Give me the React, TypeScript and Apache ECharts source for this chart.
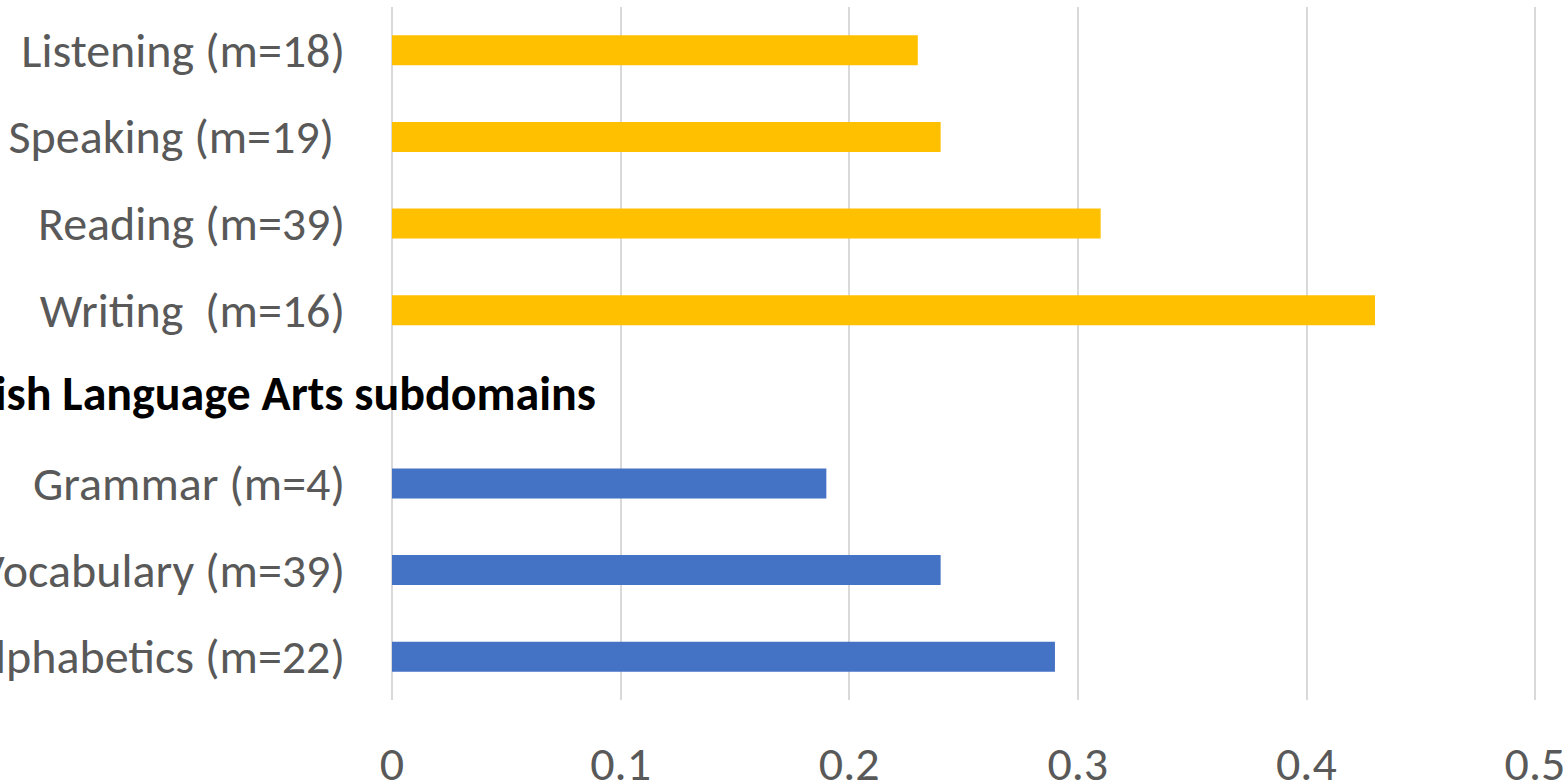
import React, { useEffect, useRef } from "react";
import * as echarts from "echarts";

const HEADER = "English Language Arts subdomains";
const categories = [
  "Listening (m=18)",
  "Speaking (m=19) ",
  "Reading (m=39)",
  "Writing  (m=16)",
  HEADER,
  "Grammar (m=4)",
  "Vocabulary (m=39)",
  "Alphabetics (m=22)",
];
const values: (number | null)[] = [0.23, 0.24, 0.31, 0.43, null, 0.19, 0.24, 0.29];
const groups = ["lang", "lang", "lang", "lang", "none", "ela", "ela", "ela"];
const groupColors: Record<string, string> = { lang: "#FFC000", ela: "#4472C4", none: "#FFFFFF" };
const xTicks = [0, 0.1, 0.2, 0.3, 0.4, 0.5];

const FONT = "Carlito, Calibri, 'Open Sans', sans-serif";

export default function App() {
  const ref = useRef<HTMLDivElement>(null);
  useEffect(() => {
    if (!ref.current) return;
    const chart = echarts.init(ref.current, undefined, { renderer: "svg" });
    chart.setOption({
      animation: false,
      grid: {
        left: 392,
        right: 33,
        top: 7,
        bottom: 81,
        containLabel: false,
        outerBoundsMode: "none",
      },
      xAxis: {
        type: "value",
        min: xTicks[0],
        max: xTicks[xTicks.length - 1],
        interval: 0.1,
        axisLine: { show: false },
        axisTick: { show: false },
        splitLine: { show: true, lineStyle: { color: "#D9D9D9", width: 2 } },
        axisLabel: {
          color: "#595959",
          fontFamily: FONT,
          fontSize: 48,
          margin: 39,
          formatter: (v: number) => String(Math.round(v * 10) / 10),
        },
      },
      yAxis: {
        type: "category",
        inverse: true,
        data: categories,
        axisLine: { show: false },
        axisTick: { show: false },
        axisLabel: {
          color: "#595959",
          fontFamily: FONT,
          fontSize: 48,
          margin: 47,
          formatter: (v: string) => (v === HEADER ? "" : v),
        },
      },
      series: [
        {
          type: "bar",
          barWidth: 30,
          data: values.map((v, i) => ({
            value: v,
            itemStyle: { color: groupColors[groups[i]] },
          })),
        },
      ],
    });
    const y = chart.convertToPixel({ yAxisIndex: 0 }, HEADER) as number;
    chart.setOption({
      graphic: [
        {
          type: "text",
          x: 596,
          y: y - 3,
          style: {
            text: HEADER,
            fill: "#000000",
            fontFamily: FONT,
            fontWeight: "bold",
            fontSize: 48,
            align: "right",
            verticalAlign: "middle",
          },
        },
      ],
    });
    return () => chart.dispose();
  }, []);
  return (
    <div
      ref={ref}
      style={{ position: "absolute", left: 0, top: 0, width: 1568, height: 781, background: "#fff" }}
    />
  );
}
